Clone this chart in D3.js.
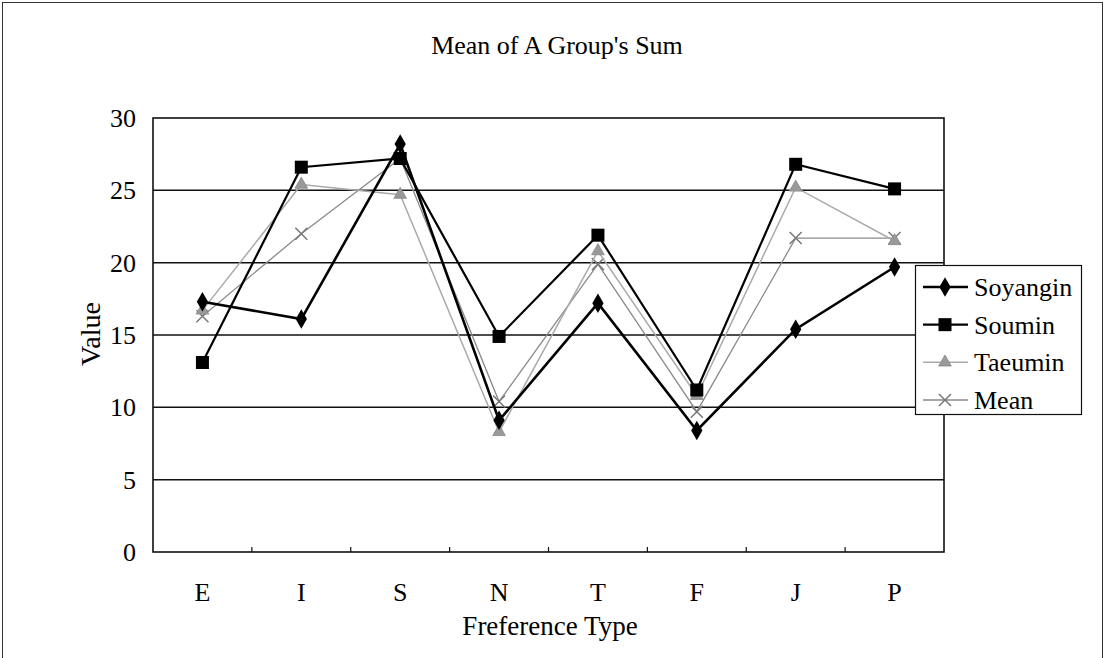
<!DOCTYPE html>
<html>
<head>
<meta charset="utf-8">
<script src="https://cdn.jsdelivr.net/npm/d3@7"></script>
<style>
  body { margin: 0; background: #fff; }
  svg text { font-family: "Liberation Serif", "DejaVu Serif", serif; fill: #000; }
</style>
</head>
<body>
<div class="chart"></div>
<script>
// data
const categories = ["E", "I", "S", "N", "T", "F", "J", "P"];
const soyangin = [17.3, 16.1, 28.2, 9.1, 17.2, 8.4, 15.4, 19.7];
const soumin = [13.1, 26.6, 27.2, 14.9, 21.9, 11.2, 26.8, 25.1];
const taeumin = [16.7, 25.4, 24.7, 8.3, 20.8, 10.8, 25.2, 21.5];
const meanVals = [16.3, 22.0, 27.2, 10.4, 19.9, 9.7, 21.7, 21.7];
const yTicks = [0, 5, 10, 15, 20, 25, 30];
const seriesNames = ["Soyangin", "Soumin", "Taeumin", "Mean"];

const width = 1104;
const height = 658;
const serif = '"Liberation Serif", "DejaVu Serif", serif';

const svg = d3.select('.chart').append('svg')
    .attr('width', width)
    .attr('height', height)
    .attr('viewBox', [0, 0, width, height]);

// outer chart frame (bottom edge runs off the picture)
svg.append('rect')
    .attr('x', 2.5).attr('y', 2.5)
    .attr('width', 1100).attr('height', 680)
    .attr('fill', 'none')
    .attr('stroke', '#333')
    .attr('stroke-width', 1);

// plot area
const plot = {left: 153, right: 944, top: 118, bottom: 552};

const x = d3.scaleBand()
    .domain(categories)
    .range([plot.left, plot.right]);

const y = d3.scaleLinear()
    .domain([0, 30])
    .range([plot.bottom, plot.top]);

// gridlines
svg.append('g')
    .selectAll('line')
    .data(yTicks.filter(t => t > 0 && t < 30))
    .join('line')
    .attr('x1', plot.left).attr('x2', plot.right)
    .attr('y1', d => y(d)).attr('y2', d => y(d))
    .attr('stroke', '#111')
    .attr('stroke-width', 1.5);

// plot border
svg.append('rect')
    .attr('x', plot.left).attr('y', plot.top)
    .attr('width', plot.right - plot.left)
    .attr('height', plot.bottom - plot.top)
    .attr('fill', 'none')
    .attr('stroke', '#111')
    .attr('stroke-width', 1.6);

// y axis labels
svg.append('g')
    .selectAll('text')
    .data(yTicks)
    .join('text')
    .attr('x', 136)
    .attr('y', d => y(d) + 9)
    .attr('text-anchor', 'end')
    .attr('font-family', serif)
    .attr('font-size', 26)
    .text(d => d);

// x axis: ticks at category boundaries, pointing inside
const bounds = categories.slice(1).map(c => x(c));
svg.append('g')
    .selectAll('line')
    .data(bounds)
    .join('line')
    .attr('x1', d => d).attr('x2', d => d)
    .attr('y1', plot.bottom).attr('y2', plot.bottom - 5)
    .attr('stroke', '#111')
    .attr('stroke-width', 1.2);

svg.append('g')
    .selectAll('text')
    .data(categories)
    .join('text')
    .attr('x', d => x(d) + x.bandwidth() / 2)
    .attr('y', 601)
    .attr('text-anchor', 'middle')
    .attr('font-family', serif)
    .attr('font-size', 26)
    .text(d => d);

// titles
svg.append('text')
    .attr('x', 557).attr('y', 54)
    .attr('text-anchor', 'middle')
    .attr('font-family', serif)
    .attr('font-size', 26)
    .text("Mean of A Group's Sum");

svg.append('text')
    .attr('x', 550).attr('y', 635)
    .attr('text-anchor', 'middle')
    .attr('font-family', serif)
    .attr('font-size', 27)
    .text("Freference Type");

svg.append('text')
    .attr('transform', 'translate(100,334) rotate(-90)')
    .attr('text-anchor', 'middle')
    .attr('font-family', serif)
    .attr('font-size', 28)
    .text("Value");

// --- SERIES --- //
const styles = {
    Soyangin: {values: soyangin, stroke: '#000', width: 2.6, marker: 'diamond', fill: '#000'},
    Soumin: {values: soumin, stroke: '#000', width: 2.2, marker: 'square', fill: '#000'},
    Taeumin: {values: taeumin, stroke: '#aaa', width: 1.5, marker: 'triangle', fill: '#999'},
    Mean: {values: meanVals, stroke: '#8a8a8a', width: 1.3, marker: 'x', fill: 'none'}
};

const cx = i => x(categories[i]) + x.bandwidth() / 2;

function drawMarker(g, type, px, py, fill) {
    if (type === 'diamond') {
        g.append('path')
            .attr('d', d3.symbol(d3.symbolDiamond, 110)())
            .attr('transform', `translate(${px},${py})`)
            .attr('fill', fill);
    } else if (type === 'square') {
        g.append('rect')
            .attr('x', px - 6.5).attr('y', py - 6.5)
            .attr('width', 13).attr('height', 13)
            .attr('fill', fill);
    } else if (type === 'triangle') {
        g.append('path')
            .attr('d', d3.symbol(d3.symbolTriangle, 70)())
            .attr('transform', `translate(${px},${py})`)
            .attr('fill', fill)
            .attr('stroke', '#888')
            .attr('stroke-width', 0.8);
    } else {
        g.append('path')
            .attr('d', `M${px - 6},${py - 6}L${px + 6},${py + 6}M${px - 6},${py + 6}L${px + 6},${py - 6}`)
            .attr('stroke', '#777')
            .attr('stroke-width', 1.5);
    }
}

// draw back to front so the black series sit on top
const order = ["Mean", "Taeumin", "Soumin", "Soyangin"];
const line = d3.line()
    .x((d, i) => cx(i))
    .y(d => y(d));

order.forEach(name => {
    const s = styles[name];
    const g = svg.append('g');
    g.append('path')
        .datum(s.values)
        .attr('d', line)
        .attr('fill', 'none')
        .attr('stroke', s.stroke)
        .attr('stroke-width', s.width)
        .attr('stroke-linejoin', 'miter');
    s.values.forEach((v, i) => drawMarker(g, s.marker, cx(i), y(v), s.fill));
});

// --- LEGEND --- //
const legend = svg.append('g');
legend.append('rect')
    .attr('x', 915.5).attr('y', 265.5)
    .attr('width', 166).attr('height', 149)
    .attr('fill', '#fff')
    .attr('stroke', '#111')
    .attr('stroke-width', 1.2);

const legendY = d3.scalePoint()
    .domain(seriesNames)
    .range([287, 400]);

seriesNames.forEach(name => {
    const s = styles[name];
    const ly = legendY(name);
    legend.append('line')
        .attr('x1', 923).attr('x2', 968)
        .attr('y1', ly).attr('y2', ly)
        .attr('stroke', s.stroke)
        .attr('stroke-width', s.width);
    drawMarker(legend, s.marker, 945, ly, s.fill);
    legend.append('text')
        .attr('x', 974).attr('y', ly + 9)
        .attr('font-family', serif)
        .attr('font-size', 26)
        .text(name);
});
</script>
</body>
</html>
